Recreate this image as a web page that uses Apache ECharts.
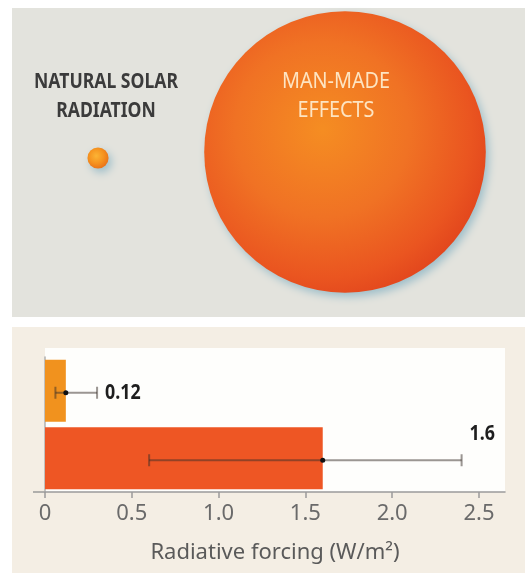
<!DOCTYPE html>
<html>
<head>
<meta charset="utf-8">
<script src="https://cdn.jsdelivr.net/npm/echarts@6/dist/echarts.min.js"></script>
<style>
  html, body { margin: 0; padding: 0; background: #ffffff; }
  #chart { width: 525px; height: 573px; }
</style>
</head>
<body>
<div id="chart"></div>
<script>
// ---- data ----
const categories = ['NATURAL SOLAR\nRADIATION', 'MAN-MADE\nEFFECTS'];
const forcing = [0.12, 1.6];          // W/m2
const errorLow = [0.06, 0.6];
const errorHigh = [0.30, 2.4];
const tickLabels = ['0', '0.5', '1.0', '1.5', '2.0', '2.5'];
const axisTitle = 'Radiative forcing (W/m\u00B2)';

// ---- style ----
const FONT = "'Noto Sans', 'Open Sans', sans-serif";
const barColors = ['#f1921e', '#ee5624'];
const circleGradients = [
  { type: 'radial', x: 0.42, y: 0.4, r: 0.6, colorStops: [
    { offset: 0, color: '#fbb435' }, { offset: 0.6, color: '#f5921f' }, { offset: 1, color: '#ea751a' } ] },
  { type: 'radial', x: 0.42, y: 0.42, r: 0.62, colorStops: [
    { offset: 0, color: '#f58d22' }, { offset: 0.5, color: '#f07224' }, { offset: 0.85, color: '#ea5520' }, { offset: 1, color: '#e2461d' } ] }
];
const circleScale = 176;           // px of diameter per W/m2
const circleShift = [3, -3];
const textStyles = [
  { fill: '#3b3b3b', fontWeight: 'bold', dx: 8, dy: -62, sx: 0.8 },
  { fill: '#fde4c2', fontWeight: 'normal', dx: -9, dy: -56, sx: 0.9 }
];
const labelLift = [0, 26];

const chart = echarts.init(document.getElementById('chart'), null, { renderer: 'canvas' });

const option = {
  backgroundColor: '#ffffff',
  animation: false,
  graphic: [
    { type: 'rect', z: -5, shape: { x: 12, y: 8, width: 513, height: 309 }, style: { fill: '#e3e3dd' } },
    { type: 'rect', z: -5, shape: { x: 12, y: 327, width: 513, height: 246 }, style: { fill: '#f4eee4' } },
    { type: 'rect', z: -4, shape: { x: 45, y: 348, width: 460, height: 144 }, style: { fill: '#fefefc' } },
    { type: 'line', z: -3, shape: { x1: 33, y1: 492, x2: 45, y2: 492 }, style: { stroke: '#9a9a9a', lineWidth: 1.5 } }
  ],
  grid: [
    { left: 98, right: 180, top: 0, height: 310 },
    { left: 45, right: 20, top: 357, bottom: 81 }
  ],
  xAxis: [
    { gridIndex: 0, type: 'category', data: categories, boundaryGap: false, show: false },
    {
      gridIndex: 1, type: 'value', min: 0, max: 2.65, interval: 0.5,
      axisLine: { show: true, lineStyle: { color: '#9a9a9a', width: 1.5 } },
      axisTick: { show: true, length: 6, lineStyle: { color: '#9a9a9a', width: 1.5 } },
      splitLine: { show: false },
      axisLabel: {
        showMaxLabel: false, margin: 11, color: '#6a6a6a', fontSize: 22, fontFamily: FONT,
        formatter: function (v) { return tickLabels[Math.round(v / 0.5)] || ''; }
      },
      name: axisTitle, nameLocation: 'middle', nameGap: 50,
      nameTextStyle: { color: '#5a5a5a', fontSize: 22, fontFamily: FONT }
    }
  ],
  yAxis: [
    { gridIndex: 0, type: 'value', min: 0, max: 1, show: false },
    {
      gridIndex: 1, type: 'category', data: categories, inverse: true,
      axisLine: { show: true, lineStyle: { color: '#b0b0b0', width: 1.5 } },
      axisTick: { show: false }, axisLabel: { show: false }, splitLine: { show: false }
    }
  ],
  series: [
    {
      type: 'custom', xAxisIndex: 0, yAxisIndex: 0,
      data: forcing.map(function (v, i) { return [i, v]; }),
      encode: { x: 0, y: -1 },
      renderItem: function (params, api) {
        const i = params.dataIndex;
        const c = api.coord([api.value(0), 0.5]);
        const r = api.value(1) * circleScale / 2;
        const cy = c[1] + circleShift[i];
        const ts = textStyles[i];
        return {
          type: 'group',
          children: [
            { type: 'circle', shape: { cx: c[0], cy: cy, r: r },
              style: { fill: circleGradients[i], shadowColor: 'rgba(100,160,185,0.55)',
                       shadowBlur: 8, shadowOffsetX: 3, shadowOffsetY: 4 } },
            { type: 'text', x: c[0] + ts.dx, y: cy + ts.dy, scaleX: ts.sx,
              style: { text: categories[i], fill: ts.fill, fontSize: 22, fontWeight: ts.fontWeight,
                       fontFamily: FONT, lineHeight: 29.5, align: 'center', verticalAlign: 'middle' } }
          ]
        };
      }
    },
    {
      type: 'bar', xAxisIndex: 1, yAxisIndex: 1, barWidth: 62,
      data: forcing.map(function (v, i) { return { value: v, itemStyle: { color: barColors[i] } }; })
    },
    {
      type: 'custom', xAxisIndex: 1, yAxisIndex: 1, z: 5,
      data: categories.map(function (c, i) { return [i, errorLow[i], errorHigh[i], forcing[i]]; }),
      encode: { y: 0, x: [1, 2] },
      renderItem: function (params, api) {
        const i = api.value(0);
        const lo = api.coord([api.value(1), i]);
        const hi = api.coord([api.value(2), i]);
        const mid = api.coord([api.value(3), i]);
        const y = lo[1] + 2;
        const cap = 6;
        const stroke = { stroke: 'rgba(55,45,40,0.5)', lineWidth: 2 };
        return {
          type: 'group',
          children: [
            { type: 'line', shape: { x1: lo[0], y1: y, x2: hi[0], y2: y }, style: stroke },
            { type: 'line', shape: { x1: lo[0], y1: y - cap, x2: lo[0], y2: y + cap }, style: stroke },
            { type: 'line', shape: { x1: hi[0], y1: y - cap, x2: hi[0], y2: y + cap }, style: stroke },
            { type: 'circle', shape: { cx: mid[0], cy: y, r: 2.5 }, style: { fill: '#111' } },
            { type: 'text', x: hi[0] + 8, y: y - labelLift[params.dataIndex], scaleX: 0.85,
              style: { text: String(api.value(3)), fill: '#1e1e1e', fontSize: 21, fontWeight: 'bold',
                       fontFamily: FONT, verticalAlign: 'middle', align: 'left' } }
          ]
        };
      }
    }
  ]
};
chart.setOption(option);
</script>
</body>
</html>
